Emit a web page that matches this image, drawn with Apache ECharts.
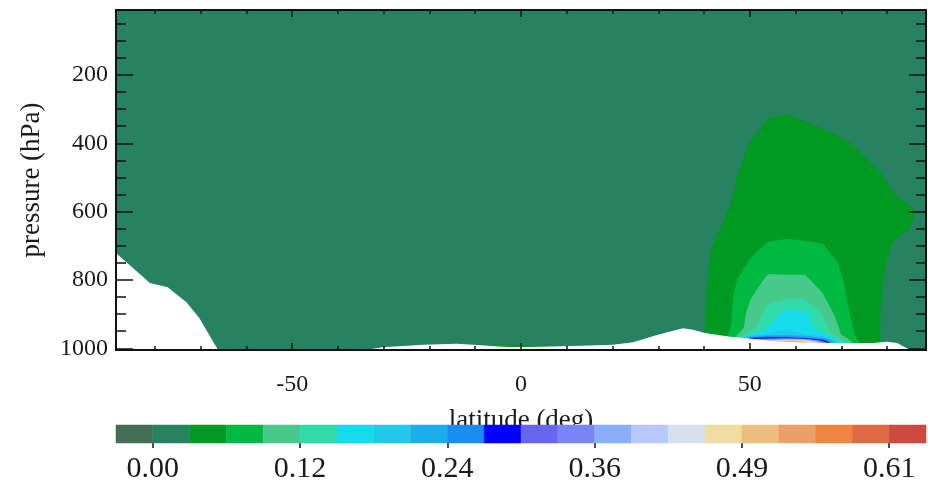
<!DOCTYPE html>
<html><head><meta charset="utf-8">
<script src="https://cdn.jsdelivr.net/npm/echarts@6/dist/echarts.min.js"></script>
<style>html,body{margin:0;padding:0;background:#fff}#c{width:928px;height:487px}</style>
</head><body><div id="c"></div>
<script>
// ---------------- data ----------------
const lats = [-88.5, -60, -30, -15, -5, 5, 15, 30, 38, 42, 46, 50, 54, 58, 62, 66, 70, 74, 78, 82, 86, 88.5];
const pressureLevels = [10, 100, 200, 300, 400, 500, 550, 600, 650, 700, 750, 800, 850, 900, 940, 960, 970, 978, 985, 995, 1005];
// field values per pressure level (one entry per latitude above)
const r10   = [.005,.005,.005,.005,.005,.005,.005,.005, .005,.005,.005,.005,.005,.005,.005,.005,.005,.005,.005,.005,.005,.005];
const r100  = [.008,.008,.008,.008,.008,.008,.008,.008, .008,.008,.008,.008,.008,.008,.008,.008,.008,.008,.008,.008,.008,.008];
const r200  = [.012,.012,.012,.012,.012,.012,.012,.012, .012,.012,.012,.013,.014,.015,.014,.013,.012,.012,.012,.012,.012,.012];
const r300  = [.014,.014,.014,.014,.014,.014,.014,.014, .015,.015,.016,.020,.027,.028,.025,.020,.018,.016,.015,.014,.013,.013];
const r400  = [.015,.015,.015,.015,.015,.015,.015,.015, .015,.016,.022,.031,.040,.045,.040,.038,.033,.028,.022,.018,.016,.015];
const r500  = [.015,.015,.015,.015,.015,.015,.015,.015, .016,.018,.025,.044,.048,.050,.048,.045,.040,.038,.033,.025,.020,.017];
const r550  = [.015,.015,.015,.015,.015,.015,.015,.015, .016,.019,.029,.048,.051,.053,.051,.048,.043,.040,.036,.030,.026,.019];
const r600  = [.015,.015,.015,.015,.015,.015,.015,.015, .016,.021,.033,.051,.053,.055,.054,.050,.046,.042,.038,.036,.031,.020];
const r650  = [.015,.015,.015,.015,.015,.015,.015,.015, .017,.025,.040,.054,.057,.059,.058,.056,.049,.043,.038,.034,.029,.019];
const r700  = [.015,.015,.015,.015,.015,.015,.015,.015, .017,.031,.045,.057,.062,.062,.062,.0615,.052,.046,.036,.028,.024,.019];
const r750  = [.015,.015,.015,.015,.015,.015,.015,.015, .018,.034,.050,.062,.080,.080,.080,.072,.058,.050,.035,.025,.022,.019];
const r800  = [.015,.015,.015,.015,.015,.015,.015,.015, .018,.036,.055,.075,.097,.096,.096,.080,.062,.050,.034,.022,.020,.018];
const r850  = [.015,.015,.015,.015,.015,.015,.015,.015, .018,.038,.058,.088,.115,.115,.117,.094,.065,.050,.033,.021,.019,.018];
const r900  = [.015,.015,.015,.015,.015,.015,.015,.015, .019,.040,.060,.100,.130,.165,.160,.118,.072,.048,.032,.020,.019,.018];
const r940  = [.015,.015,.015,.015,.015,.015,.015,.015, .019,.040,.062,.105,.155,.175,.168,.135,.085,.048,.032,.020,.019,.018];
const r960  = [.015,.015,.015,.015,.016,.016,.015,.015, .020,.040,.065,.140,.190,.200,.185,.160,.090,.050,.032,.020,.019,.018];
const r970  = [.015,.015,.015,.016,.017,.017,.016,.015, .020,.040,.068,.270,.300,.290,.270,.220,.110,.052,.032,.020,.019,.018];
const r978  = [.015,.015,.015,.016,.018,.018,.016,.015, .020,.040,.070,.350,.400,.500,.470,.300,.130,.055,.032,.020,.019,.018];
const r985  = [.016,.016,.016,.017,.025,.025,.017,.016, .020,.040,.070,.400,.450,.600,.560,.360,.150,.055,.032,.020,.019,.018];
const r995  = [.016,.016,.016,.020,.036,.034,.020,.016, .020,.040,.070,.400,.450,.600,.560,.360,.150,.055,.032,.020,.019,.018];
const r1005 = [.016,.016,.016,.020,.036,.034,.020,.016, .020,.040,.070,.400,.450,.600,.560,.360,.150,.055,.032,.020,.019,.018];
const fieldRows = [r10, r100, r200, r300, r400, r500, r550, r600, r650, r700, r750, r800, r850, r900, r940, r960, r970, r978, r985, r995, r1005];

// surface pressure (below it: no data, white)
const surfaceLats     = [-88.5, -86.1, -81.1, -77.2, -73.1, -70.3, -66.2, -64, -34, -30.2, -21.4, -14, -10.5, -3.1, 1.3, 11.4, 20.1, 24.5, 29.7, 35.4, 37.6, 40.2, 45.7, 52.9, 56.6, 63.8, 71.2, 76.9, 80, 82.2, 85, 86.5, 88.5];
const surfacePressure = [721, 750, 809, 821, 865, 911, 1005, 1012, 1005, 997, 990, 987, 990, 996, 996, 993, 990, 982, 961, 941, 946, 955, 966, 975, 981, 984, 984.5, 984.5, 981, 984.5, 1005, 1012, 1012];

// contour levels (band i spans contourLevels[i]..contourLevels[i+1])
const contourLevels = [-0.0304, 0.0000, 0.0304, 0.0608, 0.0912, 0.1216, 0.1520, 0.1824, 0.2128, 0.2432, 0.2736, 0.3040, 0.3344, 0.3648, 0.3952, 0.4256, 0.4560, 0.4864, 0.5168, 0.5472, 0.5776, 0.6080, 0.6384];
const colorbarTickValues = [0, 0.1216, 0.2432, 0.3648, 0.4864, 0.6080];
const colorbarTickLabels = ['0.00', '0.12', '0.24', '0.36', '0.49', '0.61'];
const latMajorTicks = [-50, 0, 50];
const latMinorTicks = [-80, -70, -60, -40, -30, -20, -10, 10, 20, 30, 40, 60, 70, 80];
const presMajorTicks = [200, 400, 600, 800, 1000];
const presMinorTicks = [50, 100, 150, 250, 300, 350, 450, 500, 550, 650, 700, 750, 850, 900, 950];

// palette
const bandColors = ['#436d55','#268260','#009a22','#00b940','#48c98c','#30dbaa','#15dbec','#22c8ea','#1aaeeb','#1a8df5','#0000ff',
  '#6666ee','#7a85f5','#8aaefa','#b8c8fa','#d5e0ea','#efdca0','#eebe80','#eba06a','#f08442','#dd6a40','#cc4a40'];

// ---------------- chart ----------------
const FONT = '"Liberation Serif", "Times New Roman", serif';
const TXT = '#1a1a1a';

// one data item per colour band; each fills the region value >= band floor as one path
function renderBand(params, api) {
  const k = api.value(2);
  const t = contourLevels[k];
  let d = '';
  for (let m = 0; m < pressureLevels.length - 1; m++) {
    for (let j = 0; j < lats.length - 1; j++) {
      const c = [
        [lats[j], pressureLevels[m], fieldRows[m][j]],
        [lats[j + 1], pressureLevels[m], fieldRows[m][j + 1]],
        [lats[j + 1], pressureLevels[m + 1], fieldRows[m + 1][j + 1]],
        [lats[j], pressureLevels[m + 1], fieldRows[m + 1][j]]
      ];
      const pts = [];
      for (let q = 0; q < 4; q++) {
        const a = c[q], b = c[(q + 1) % 4];
        const ia = a[2] >= t, ib = b[2] >= t;
        if (ia) pts.push(api.coord([a[0], a[1]]));
        if (ia !== ib) {
          const f = (t - a[2]) / (b[2] - a[2]);
          pts.push(api.coord([a[0] + f * (b[0] - a[0]), a[1] + f * (b[1] - a[1])]));
        }
      }
      if (pts.length >= 3) {
        d += 'M' + pts.map(p => p[0].toFixed(2) + ' ' + p[1].toFixed(2)).join('L') + 'Z';
      }
    }
  }
  if (!d) return null;
  return { type: 'path', shape: { pathData: d }, style: { fill: bandColors[k], stroke: null } };
}

function renderBar(params, api) {
  const i = api.value(2);
  const p0 = api.coord([contourLevels[i], 1]);
  const p1 = api.coord([contourLevels[i + 1], 0]);
  return { type: 'rect', shape: { x: p0[0], y: p0[1], width: p1[0] - p0[0], height: p1[1] - p0[1] },
    style: { fill: bandColors[i], stroke: bandColors[i], lineWidth: 0.5 } };
}

const frameLine = { show: true, onZero: false, lineStyle: { color: '#111', width: 2 } };
function xAx(pos, ticks, len, extra) {
  return Object.assign({ type: 'value', gridIndex: 0, position: pos, min: -88.5, max: 88.5, z: 10,
    axisLine: frameLine, splitLine: { show: false },
    axisTick: { show: true, inside: true, length: len, customValues: ticks, lineStyle: { color: '#111', width: 1.5 } },
    axisLabel: { show: false } }, extra || {});
}
function yAx(pos, ticks, len, extra) {
  return Object.assign({ type: 'value', gridIndex: 0, position: pos, inverse: true, min: 10, max: 1005, z: 10,
    axisLine: frameLine, splitLine: { show: false },
    axisTick: { show: true, inside: true, length: len, customValues: ticks, lineStyle: { color: '#111', width: 1.5 } },
    axisLabel: { show: false } }, extra || {});
}

const option = {
  animation: false,
  backgroundColor: '#fff',
  grid: [
    { left: 116, top: 10, width: 810, height: 340 },
    { left: 116, top: 425, width: 810, height: 18 }
  ],
  xAxis: [
    xAx('bottom', latMajorTicks, 7, {
      name: 'latitude (deg)', nameLocation: 'middle', nameGap: 57,
      nameTextStyle: { fontFamily: FONT, fontSize: 27, color: TXT },
      axisLabel: { show: true, customValues: latMajorTicks, margin: 23, fontFamily: FONT, fontSize: 24, color: TXT,
        formatter: v => String(v) }
    }),
    xAx('bottom', latMinorTicks, 4),
    xAx('top', latMajorTicks, 7),
    xAx('top', latMinorTicks, 4),
    { type: 'value', gridIndex: 1, position: 'bottom', min: contourLevels[0], max: contourLevels[contourLevels.length - 1], z: 10,
      axisLine: { show: false }, splitLine: { show: false },
      axisTick: { show: true, inside: false, length: 5, customValues: colorbarTickValues, lineStyle: { color: '#111', width: 1.5 } },
      axisLabel: { show: true, customValues: colorbarTickValues, margin: 11, fontFamily: FONT, fontSize: 30, color: TXT,
        formatter: v => { let b = 0; colorbarTickValues.forEach((t, i) => { if (Math.abs(t - v) < Math.abs(colorbarTickValues[b] - v)) b = i; }); return colorbarTickLabels[b]; } } }
  ],
  yAxis: [
    yAx('left', presMajorTicks, 17, {
      name: 'pressure (hPa)', nameLocation: 'middle', nameGap: 71,
      nameTextStyle: { fontFamily: FONT, fontSize: 27, color: TXT },
      axisLabel: { show: true, customValues: presMajorTicks, margin: 8, fontFamily: FONT, fontSize: 24, color: TXT,
        formatter: v => String(v), padding: [4, 0, 0, 0] }
    }),
    yAx('left', presMinorTicks, 10),
    yAx('right', presMajorTicks, 17),
    yAx('right', presMinorTicks, 10),
    { type: 'value', gridIndex: 1, min: 0, max: 1, show: false }
  ],
  series: [
    { type: 'custom', xAxisIndex: 0, yAxisIndex: 0, z: 1, clip: true, silent: true,
      renderItem: renderBand, data: bandColors.map((c, k) => [0, 500, k]) },
    { type: 'line', xAxisIndex: 0, yAxisIndex: 0, z: 2, clip: true, silent: true, symbol: 'none',
      lineStyle: { width: 0, color: '#fff' },
      areaStyle: { color: '#fff', opacity: 1, origin: 'end' },
      data: surfaceLats.map((l, i) => [l, surfacePressure[i]]) },
    { type: 'custom', xAxisIndex: 4, yAxisIndex: 4, z: 20, silent: true, renderItem: renderBar,
      data: bandColors.map((c, i) => [(contourLevels[i] + contourLevels[i + 1]) / 2, 0.5, i]) }
  ]
};
const chart = echarts.init(document.getElementById('c'), null, { renderer: 'canvas' });
chart.setOption(option);
</script>
</body></html>
